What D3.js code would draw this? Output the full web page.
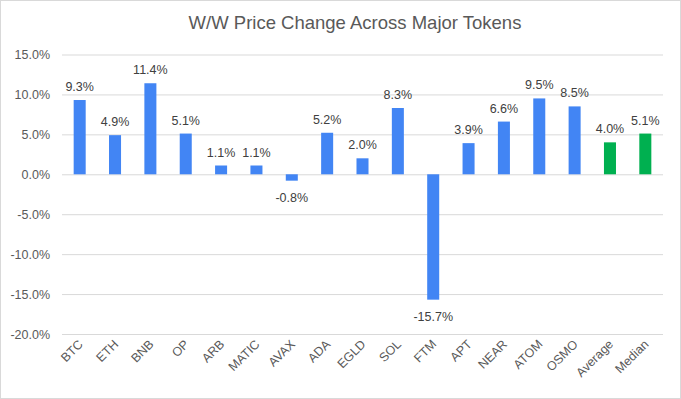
<!DOCTYPE html>
<html>
<head>
<meta charset="utf-8">
<script src="https://cdn.jsdelivr.net/npm/d3@7"></script>
<style>
  body { margin: 0; background: #fff; }
  text { font-family: "Liberation Sans", Arial, sans-serif; }
</style>
</head>
<body>
<script>

// data
var tokens   = ["BTC", "ETH", "BNB", "OP", "ARB", "MATIC", "AVAX", "ADA", "EGLD",
                "SOL", "FTM", "APT", "NEAR", "ATOM", "OSMO", "Average", "Median"];
var changes  = [9.3, 4.9, 11.4, 5.1, 1.1, 1.1, -0.8, 5.2, 2.0,
                8.3, -15.7, 3.9, 6.6, 9.5, 8.5, 4.0, 5.1];
var summary  = ["Average", "Median"];
var yTicks   = [-20, -15, -10, -5, 0, 5, 10, 15];

var W        = 681,
    H        = 399;

var margin   = {top: 55, right: 18, bottom: 65, left: 62};

// plain hyphen for negatives, like the original
function pct(v) { return d3.format(".1f")(v).replace("\u2212", "-") + "%"; }

var svg = d3.select("body").append("svg")
    .attr("width",  W)
    .attr("height", H);

// outer frame
svg.append("rect")
    .attr("x", 0.5).attr("y", 0.5)
    .attr("width", W - 1).attr("height", H - 1)
    .attr("fill", "#fff")
    .attr("stroke", "#d9d9d9");

svg.append("text")
    .attr("x", 355)
    .attr("y", 29)
    .attr("text-anchor", "middle")
    .attr("font-size", 18.5)
    .attr("fill", "#595959")
    .text("W/W Price Change Across Major Tokens");

var x = d3.scaleBand()
    .domain(tokens)
    .range([margin.left, W - margin.right])
    .paddingInner(0.66)
    .paddingOuter(0.33);

var y = d3.scaleLinear()
    .domain([-20, 15])
    .range([334, 54.5]);

// gridlines
var yAxis = d3.axisLeft(y)
    .tickValues(yTicks)
    .tickSize(-(W - margin.right - margin.left))
    .tickFormat(pct);

var gy = svg.append("g")
    .attr("transform", "translate(" + margin.left + ",0)")
    .call(yAxis);
gy.select(".domain").remove();
gy.selectAll(".tick line").attr("stroke", "#d9d9d9");
gy.selectAll(".tick text")
    .attr("font-size", 12.5)
    .attr("fill", "#595959")
    .attr("x", -12);

// bars
var data = tokens.map(function(t, i) { return {name: t, v: changes[i]}; });

svg.selectAll(".bar")
    .data(data)
    .enter().append("rect")
    .attr("class", "bar")
    .attr("x", function(d) { return x(d.name); })
    .attr("width", x.bandwidth())
    .attr("y", function(d) { return y(Math.max(0, d.v)); })
    .attr("height", function(d) { return Math.abs(y(d.v) - y(0)); })
    .attr("fill", function(d) { return summary.indexOf(d.name) >= 0 ? "#00b050" : "#4285f4"; });

// data labels
svg.selectAll(".lbl")
    .data(data)
    .enter().append("text")
    .attr("class", "lbl")
    .attr("x", function(d) { return x(d.name) + x.bandwidth() / 2; })
    .attr("y", function(d) { return d.v >= 0 ? y(d.v) - 9 : y(d.v) + 21; })
    .attr("text-anchor", "middle")
    .attr("font-size", 12.5)
    .attr("fill", "#404040")
    .text(function(d) { return pct(d.v); });

// category labels, rotated
svg.selectAll(".cat")
    .data(tokens)
    .enter().append("text")
    .attr("class", "cat")
    .attr("text-anchor", "end")
    .attr("font-size", 12.5)
    .attr("fill", "#595959")
    .attr("transform", function(d) {
        return "translate(" + (x(d) + x.bandwidth() / 2 + 4) + ",345) rotate(-45)";
    })
    .text(function(d) { return d; });

</script>
</body>
</html>
